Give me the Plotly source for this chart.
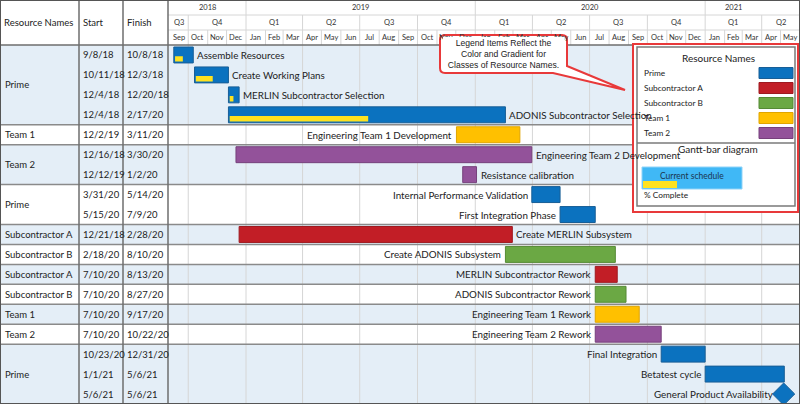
import plotly.graph_objects as go
import pandas as pd

# ---------------- data ----------------
resources = ["Prime", "Prime", "Prime", "Prime", "Team 1", "Team 2", "Team 2",
             "Prime", "Prime", "Subcontractor A", "Subcontractor B",
             "Subcontractor A", "Subcontractor B", "Team 1", "Team 2",
             "Prime", "Prime", "Prime"]
tasks = ["Assemble Resources", "Create Working Plans", "MERLIN Subcontractor Selection",
         "ADONIS Subcontractor Selection", "Engineering Team 1 Development",
         "Engineering Team 2 Development", "Resistance calibration",
         "Internal Performance Validation", "First Integration Phase",
         "Create MERLIN Subsystem", "Create ADONIS Subsystem",
         "MERLIN Subcontractor Rework", "ADONIS Subcontractor Rework",
         "Engineering Team 1 Rework", "Engineering Team 2 Rework",
         "Final Integration", "Betatest cycle", "General Product Availability"]
starts = ["2018-09-08", "2018-10-11", "2018-12-04", "2018-12-04", "2019-12-02",
          "2018-12-16", "2019-12-12", "2020-03-31", "2020-05-15", "2018-12-21",
          "2020-02-18", "2020-07-10", "2020-07-10", "2020-07-10", "2020-07-10",
          "2020-10-23", "2021-01-01", "2021-05-06"]
finishes = ["2018-10-08", "2018-12-03", "2018-12-20", "2020-02-17", "2020-03-11",
            "2020-03-30", "2020-01-02", "2020-05-14", "2020-07-09", "2020-02-28",
            "2020-08-10", "2020-08-13", "2020-08-27", "2020-09-17", "2020-10-22",
            "2020-12-31", "2021-05-06", "2021-05-06"]
progress = [40, 50, 35, 50, 0, 0, 0, 0, 0, 0, 0, 0, 0, 0, 0, 0, 0, 0]
label_side = ["right", "right", "right", "right", "left", "right", "right",
              "left", "left", "right", "left", "left", "left", "left", "left",
              "left", "left", "left"]

legend_names = ["Prime", "Subcontractor A", "Subcontractor B", "Team 1", "Team 2"]
fill_colors = {"Prime": "#0B72BF", "Subcontractor A": "#C21E26",
               "Subcontractor B": "#6BA844", "Team 1": "#FFC000", "Team 2": "#93529A"}
line_colors = {"Prime": "#185E96", "Subcontractor A": "#9E1A20",
               "Subcontractor B": "#558A35", "Team 1": "#E0A500", "Team 2": "#76407C"}
PROGRESS_COLOR = "#FFE21F"

years = [2018, 2019, 2020, 2021]
year_label_pos = ["2018-10-31", "2019-07-02", "2020-07-02", "2021-02-15"]
X_START, X_END = "2018-09-01", "2021-06-01"

# ---------------- geometry helpers ----------------
W, H = 800, 404
HEADER = 45
FONT = "Lato"
GRID = "#D6D6D6"
DARK = "#6E6E6E"
TXT = "#222"


def px(x):
    return x / W


def py(y):
    return 1 - y / H


def fmt(d):
    t = pd.Timestamp(d)
    return f"{t.month}/{t.day}/{t.year % 100}"


def ann(x, y, text, size, xanchor="center", xref="paper", yref="paper", family=FONT,
        color=TXT, **kw):
    return dict(xref=xref, yref=yref, x=x, y=y, text=text, showarrow=False,
                xanchor=xanchor, yanchor="middle",
                font=dict(family=family, size=size, color=color), **kw)


n = len(tasks)
rows = list(range(n))
s_ts = [pd.Timestamp(s) for s in starts]
f_ts = [pd.Timestamp(f) + pd.Timedelta(days=1) for f in finishes]
dur_ms = [(f - s).total_seconds() * 1000 for s, f in zip(s_ts, f_ts)]
is_milestone = [starts[i] == finishes[i] for i in rows]

fig = go.Figure()

# main bars
bi = [i for i in rows if not is_milestone[i]]
fig.add_trace(go.Bar(
    y=[rows[i] for i in bi], x=[dur_ms[i] for i in bi], base=[starts[i] for i in bi],
    orientation="h", width=0.8, offset=-0.4,
    marker=dict(color=[fill_colors[resources[i]] for i in bi],
                line=dict(color=[line_colors[resources[i]] for i in bi], width=1)),
    hoverinfo="skip"))

# progress bars
pi = [i for i in bi if progress[i] > 0]
fig.add_trace(go.Bar(
    y=[rows[i] for i in pi], x=[dur_ms[i] * progress[i] / 100 for i in pi],
    base=[(s_ts[i] + pd.Timedelta(days=2)).strftime("%Y-%m-%d") for i in pi],
    orientation="h", width=0.27, offset=0.06,
    marker=dict(color=PROGRESS_COLOR, line=dict(width=0)), hoverinfo="skip"))

# milestones
mi = [i for i in rows if is_milestone[i]]
fig.add_trace(go.Scatter(
    x=[starts[i] for i in mi], y=[rows[i] for i in mi], mode="markers",
    marker=dict(symbol="diamond", size=17, color=fill_colors["Prime"],
                line=dict(color=line_colors["Prime"], width=1)),
    hoverinfo="skip"))

shapes = []
annotations = []

# group rows (shading + separators + names)
groups = []
for i in rows:
    if i == 0 or resources[i] != resources[i - 1]:
        groups.append([i, i])
    else:
        groups[-1][1] = i
for gi, (a, b) in enumerate(groups):
    if gi % 2 == 0:
        shapes.append(dict(type="rect", xref="paper", yref="y", x0=0, x1=1,
                           y0=a - 0.5, y1=b + 0.5, fillcolor="#E4EEF7",
                           line=dict(width=0), layer="below"))
    annotations.append(ann(px(3), (a + b) / 2, resources[a], 9.5, "left", yref="y"))

# quarter gridlines in body
quarters = pd.date_range("2018-10-01", X_END, freq="QS")
for q in quarters:
    shapes.append(dict(type="line", xref="x", yref="paper", x0=q, x1=q,
                       y0=0, y1=py(HEADER), line=dict(color=GRID, width=1),
                       layer="below"))

for gi, (a, b) in enumerate(groups):
    if gi > 0:
        shapes.append(dict(type="line", xref="paper", yref="y", x0=0, x1=1,
                           y0=a - 0.5, y1=a - 0.5,
                           line=dict(color="#8A8A8A", width=1.5), layer="below"))

# ---------------- header ----------------
months = pd.date_range(X_START, X_END, freq="MS")[:-1]
for m in months:
    mid = m + (m + pd.offsets.MonthBegin(1) - m) / 2
    annotations.append(ann(mid, py(38), m.strftime("%b"), 7.5, xref="x", color="#333"))
    if m == months[0]:
        continue
    if m.month == 1:
        top = 0
    elif m.month in (4, 7, 10):
        top = 15
    else:
        top = 30
    shapes.append(dict(type="line", xref="x", yref="paper", x0=m, x1=m,
                       y0=py(HEADER), y1=py(top), line=dict(color=GRID, width=1)))

# quarter labels
qstarts = pd.date_range("2018-07-01", "2021-04-01", freq="QS")
x_lo, x_hi = pd.Timestamp(X_START), pd.Timestamp(X_END)
for q in qstarts:
    q_end = q + pd.offsets.QuarterBegin(1, startingMonth=1)
    lo, hi = max(q, x_lo), min(q_end, x_hi)
    annotations.append(ann(lo + (hi - lo) / 2, py(22.5), f"Q{q.quarter}", 7.5,
                           xref="x", color="#333"))
for yv, pos in zip(years, year_label_pos):
    annotations.append(ann(pos, py(7.5), str(yv), 7.5, xref="x", color="#333"))

for yy in (15, 30):
    shapes.append(dict(type="line", xref="paper", yref="paper", x0=px(168), x1=1,
                       y0=py(yy), y1=py(yy), line=dict(color=GRID, width=1)))
shapes.append(dict(type="line", xref="paper", yref="paper", x0=0, x1=1,
                   y0=py(HEADER), y1=py(HEADER), line=dict(color=DARK, width=1.5)))

# table columns
for xx in (79, 123, 168):
    shapes.append(dict(type="line", xref="paper", yref="paper", x0=px(xx), x1=px(xx),
                       y0=0, y1=1, line=dict(color=DARK, width=1.5)))
shapes.append(dict(type="rect", xref="paper", yref="paper", x0=0, x1=1, y0=0, y1=1,
                   line=dict(color="#555", width=2)))

for txt, xx in (("Resource Names", 2), ("Start", 81), ("Finish", 125)):
    annotations.append(ann(px(xx), py(22.5), txt, 9.5, "left"))

# start / finish columns
for i in rows:
    annotations.append(ann(px(81), i, fmt(starts[i]), 9.5, "left", yref="y"))
    annotations.append(ann(px(125), i, fmt(finishes[i]), 9.5, "left", yref="y"))

# task labels
for i in rows:
    if is_milestone[i]:
        annotations.append(ann(starts[i], i, tasks[i], 9.8, "right", xref="x", yref="y",
                               xshift=-9))
    elif label_side[i] == "right":
        annotations.append(ann(f_ts[i], i, tasks[i], 9.8, "left", xref="x", yref="y",
                               xshift=2))
    else:
        annotations.append(ann(s_ts[i], i, tasks[i], 9.8, "right", xref="x", yref="y",
                               xshift=-2))

# ---------------- legend panel ----------------
shapes.append(dict(type="rect", xref="paper", yref="paper", x0=px(633), x1=px(798),
                   y0=py(212), y1=py(44), line=dict(color="#E8393A", width=2),
                   fillcolor="white", layer="above"))
shapes.append(dict(type="rect", xref="paper", yref="paper", x0=px(637), x1=px(795),
                   y0=py(206), y1=py(47), line=dict(color="#7A7A7A", width=1.5),
                   fillcolor="white", layer="above"))
shapes.append(dict(type="line", xref="paper", yref="paper", x0=px(637), x1=px(795),
                   y0=py(143), y1=py(143), line=dict(color="#7A7A7A", width=1.5),
                   layer="above"))
annotations.append(ann(px(718), py(58), "Resource Names", 10))
for k, name in enumerate(legend_names):
    yc = 73 + 15 * k
    annotations.append(ann(px(642), py(yc), name, 8.3, "left"))
    shapes.append(dict(type="rect", xref="paper", yref="paper", x0=px(759), x1=px(793),
                       y0=py(yc + 5.5), y1=py(yc - 5.5), fillcolor=fill_colors[name],
                       line=dict(color=line_colors[name], width=1), layer="above"))
annotations.append(ann(px(718), py(149), "Gantt-bar diagram", 10))
shapes.append(dict(type="rect", xref="paper", yref="paper", x0=px(642), x1=px(742),
                   y0=py(189), y1=py(167), fillcolor="#40B8F6",
                   line=dict(color="#8FD3F8", width=1), layer="above"))
shapes.append(dict(type="rect", xref="paper", yref="paper", x0=px(643), x1=px(677),
                   y0=py(188), y1=py(181), fillcolor=PROGRESS_COLOR,
                   line=dict(width=0), layer="above"))
annotations.append(ann(px(692), py(176), "Current schedule", 8.5, color="#1B3550"))
annotations.append(ann(px(642), py(195), "% Complete", 8.3, "left"))

# ---------------- callout ----------------
pts = [("M", 445, 35), ("L", 562, 35), ("Q", 567, 35, 567, 40), ("L", 567, 66),
       ("L", 625, 90), ("L", 553, 73), ("L", 445, 73), ("Q", 440, 73, 440, 68),
       ("L", 440, 40), ("Q", 440, 35, 445, 35)]
path = ""
for p in pts:
    cmd, coords = p[0], p[1:]
    cs = []
    for j in range(0, len(coords), 2):
        cs.append(f"{px(coords[j]):.5f},{py(coords[j + 1]):.5f}")
    path += cmd + " " + " ".join(cs) + " "
path += "Z"
shapes.append(dict(type="path", xref="paper", yref="paper", path=path,
                   fillcolor="white", line=dict(color="#E8393A", width=2), layer="above"))
annotations.append(dict(xref="paper", yref="paper", x=px(503.5), y=py(54),
                        xanchor="center", yanchor="middle", showarrow=False,
                        text="Legend Items Reflect the<br>Color and Gradient for<br>Classes of Resource Names.",
                        align="center", valign="middle", width=121, height=34,
                        bgcolor="white", borderpad=0, borderwidth=0,
                        font=dict(family="Liberation Sans", size=8.6, color=TXT)))

fig.update_layout(
    width=W, height=H, margin=dict(l=0, r=0, t=0, b=0),
    paper_bgcolor="white", plot_bgcolor="rgba(0,0,0,0)",
    showlegend=False, barmode="overlay",
    xaxis=dict(type="date", range=[X_START, X_END], domain=[169.4 / W, 1],
               showgrid=False, showticklabels=False, zeroline=False, showline=False),
    yaxis=dict(range=[n - 0.5, -0.5], domain=[0, py(HEADER)], showgrid=False,
               showticklabels=False, zeroline=False, showline=False),
    shapes=shapes, annotations=annotations,
)

fig.write_html("out.html")
